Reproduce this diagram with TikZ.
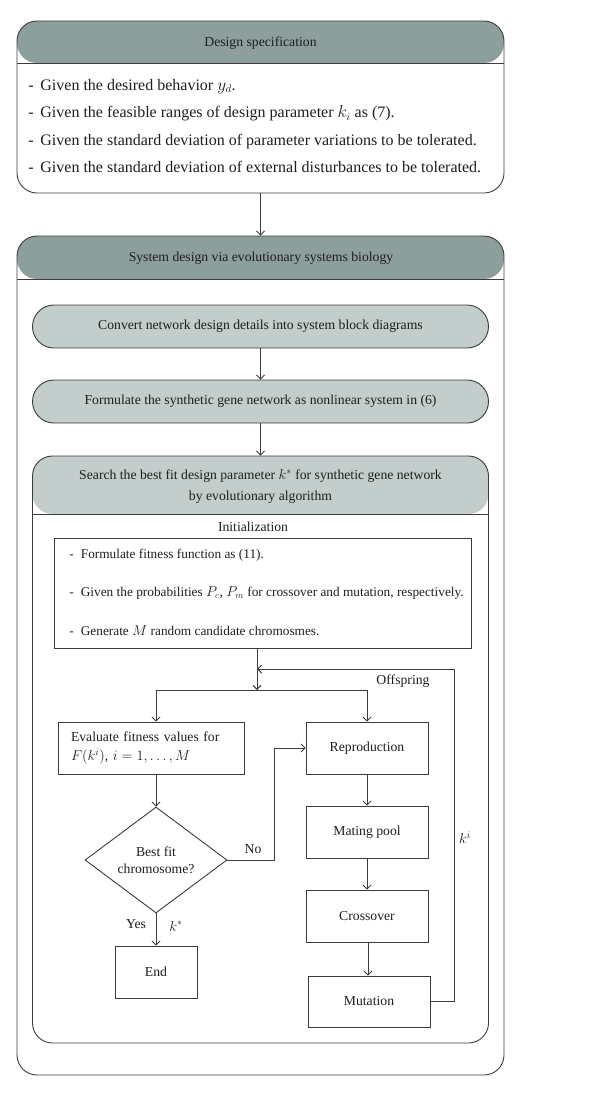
\documentclass[tikz,border=0pt]{standalone}
\usepackage{fontspec}
\setmainfont{Liberation Serif}
\usetikzlibrary{arrows.meta,shapes.geometric}
\definecolor{hdark}{HTML}{8D9F9C}
\definecolor{hlight}{HTML}{C3CDCB}
\definecolor{ln}{HTML}{3C3C3C}
\definecolor{txt}{HTML}{1E1E1E}
\tikzset{
  every node/.style={text=txt},
  hdrbox/.style n args={3}{draw=ln, rectangle, rounded corners=#3, inner sep=0pt,
    path picture={\fill[#1] (path picture bounding box.north west) rectangle ([yshift=-#2]path picture bounding box.north east);
      \draw[ln,line width=0.9pt] ([yshift=-#2]path picture bounding box.north west) -- ([yshift=-#2]path picture bounding box.north east);}},
  stadium/.style={draw=ln, fill=hlight, rectangle, rounded corners=21.5pt, minimum width=456pt, minimum height=43pt, inner sep=0pt},
  pbox/.style={draw=ln, rectangle, minimum width=122pt, minimum height=52pt, inner sep=0pt},
  arr/.style={draw=ln, -{Straight Barb[length=4pt,width=8pt,line width=0.9pt]}},
  ln/.style={draw=ln},
  item/.style={anchor=base west, inner sep=0pt, font=\fontsize{13.3}{16}\selectfont},
  bigitem/.style={anchor=base west, inner sep=0pt, font=\fontsize{16}{18}\selectfont},
}
\begin{document}
\begin{tikzpicture}[x=1pt,y=-1pt,line width=0.9pt,font=\fontsize{13.7}{16}\selectfont]
\useasboundingbox (0,0) rectangle (600,1096);
% Design specification
\node[hdrbox={hdark}{42pt}{20pt}, minimum width=487pt, minimum height=172pt] (spec) at (260.5,107) {};
\node (spech) at (260.5,43) {Design specification};
\node[bigitem] (s1) at (28,90) {-\, Given the desired behavior $y_d$.};
\node[bigitem] (s2) at (28,117.5) {-\, Given the feasible ranges of design parameter $k_i$ as (7).};
\node[bigitem] (s3) at (28,145) {-\, Given the standard deviation of parameter variations to be tolerated.};
\node[bigitem] (s4) at (28,172) {-\, Given the standard deviation of external disturbances to be tolerated.};
% System design
\node[hdrbox={hdark}{43pt}{20pt}, minimum width=487pt, minimum height=839pt] (sys) at (260.5,655.5) {};
\node (sysh) at (261,258) {System design via evolutionary systems biology};
\draw[arr] (spec.south) -- (sys.north);
\node[stadium] (conv) at (260.5,326.5) {Convert network design details into system block diagrams};
\node[stadium] (form) at (260.5,401.5) {Formulate the synthetic gene network as nonlinear system in (6)};
\node[hdrbox={hlight}{58pt}{20pt}, minimum width=456pt, minimum height=587pt] (search) at (260.5,749.5) {};
\node[align=center, font=\fontsize{13.7}{21}\selectfont] (searchh) at (260.5,486.5) {Search the best fit design parameter $k^*$ for synthetic gene network\\by evolutionary algorithm};
\draw[arr] (conv.south) -- (form.north);
\draw[arr] (form.south) -- (search.north);
% Initialization
\node (initl) at (253,527) {Initialization};
\node[draw=ln, rectangle, minimum width=417pt, minimum height=110pt, inner sep=0pt] (init) at (262.5,593) {};
\node[item] (i1) at (69,558) {-\; Formulate fitness function as (11).};
\node[item] (i2) at (69,596) {-\; Given the probabilities $P_c$, $P_m$ for crossover and mutation, respectively.};
\node[item] (i3) at (69,635) {-\; Generate $M$ random candidate chromosmes.};
% flow
\coordinate (split) at (257,690);
\coordinate (fbin) at (257,669);
\node[pbox, minimum width=186pt, align=left, text width=160pt, font=\fontsize{13.7}{19}\selectfont] (eval) at (151,748) {Evaluate fitness values for\\$F(k^i)$, $i=1,\ldots,M$};
\node[diamond, draw=ln, minimum width=142pt, minimum height=106pt, inner sep=0pt, align=center, font=\fontsize{13.7}{17}\selectfont] (dec) at (156,860) {Best fit\\chromosome?};
\node[pbox, minimum width=82pt] (endb) at (156,972) {End};
\node[pbox] (repro) at (367,748) {Reproduction};
\node[pbox] (mate) at (367,832) {Mating pool};
\node[pbox] (cross) at (367,916) {Crossover};
\node[pbox, minimum height=51pt] (mut) at (369,1001.5) {Mutation};
\coordinate (lsplit) at (156,690);
\coordinate (rsplit) at (367,690);
\coordinate (nocorner) at (274,748);
\coordinate (fbcorner) at (454,669);
\draw[arr] (init.south -| split) -- (split);
\draw[ln] (lsplit) -- (rsplit);
\draw[arr] (lsplit) -- (lsplit |- eval.north);
\draw[arr] (rsplit) -- (repro.north);
\draw[arr] (dec.north |- eval.south) -- (dec.north);
\draw[arr] (dec.east) -| (nocorner) -- (repro.west);
\draw[arr] (dec.south) -- (endb.north);
\draw[arr] (repro.south) -- (mate.north);
\draw[arr] (mate.south) -- (cross.north);
\draw[arr] (cross.south -| 368,0) -- (mut.north -| 368,0);
\draw[arr] (mut.east) -| (fbcorner) -- (fbin);
\node (nol) at (253,849) {No};
\node (yesl) at (136,924) {Yes};
\node (kstar) at (176,926) {$k^*$};
\node (offl) at (403,681) {Offspring};
\node (kil) at (465,838) {$k^i$};
\end{tikzpicture}
\end{document}
